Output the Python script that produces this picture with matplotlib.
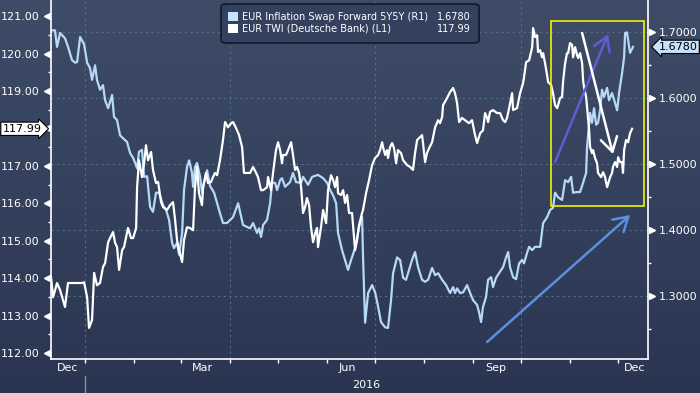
import numpy as np
import pandas as pd
import matplotlib
matplotlib.use("Agg")
import matplotlib.pyplot as plt
import matplotlib.dates as mdates
from matplotlib.colors import LinearSegmentedColormap
from matplotlib.patches import Rectangle, FancyBboxPatch
from matplotlib.transforms import offset_copy, blended_transform_factory

BASE = pd.Timestamp("2016-01-01")   # day counts below are days from 1 Jan 2016

# EUR Inflation Swap Forward 5Y5Y, right axis
swap_day = [-21.4, -18.9, -17.6, -15.7, -12.6, -10.7, -8.2, -6.3, -5.0, -3.1,
            -0.6, 1.3, 3.1, 4.4, 6.3, 7.5, 9.4, 11.3, 12.6, 14.5,
            17.0, 18.2, 20.1, 22.0, 24.5, 26.4, 28.3, 30.2, 32.7, 33.9,
            35.8, 37.1, 39.0, 40.9, 42.7, 44.6, 46.5, 49.0, 50.9, 52.8,
            54.7, 55.9, 57.8, 59.1, 61.0, 62.2, 64.1, 65.4, 67.2, 67.9,
            69.1, 70.4, 72.3, 73.5, 74.8, 76.7, 78.6, 81.1, 83.0, 84.8,
            86.7, 89.2, 93.0, 96.2, 99.3, 103.7, 105.6, 108.1, 109.4, 110.6,
            111.9, 114.4, 116.3, 117.5, 119.4, 120.7, 122.6, 123.8, 125.7, 128.8,
            130.7, 132.6, 135.8, 137.0, 140.2, 142.7, 146.4, 149.6, 152.1, 154.0,
            155.9, 157.8, 159.0, 161.5, 163.4, 165.3, 167.2, 169.7, 172.2, 174.1,
            174.7, 176.0, 177.9, 180.4, 182.3, 184.2, 186.0, 188.6, 190.4, 192.3,
            193.6, 196.1, 198.0, 199.9, 201.7, 203.0, 205.5, 207.4, 209.3, 211.8,
            213.7, 215.6, 218.1, 220.0, 221.9, 224.4, 226.9, 229.4, 231.3, 232.5,
            233.8, 235.7, 237.6, 240.1, 242.0, 243.9, 246.4, 247.6, 248.9, 250.1,
            252.0, 253.3, 255.2, 256.4, 258.3, 261.5, 262.7, 264.6, 265.9, 267.1,
            269.0, 270.9, 272.8, 274.7, 275.9, 277.8, 279.1, 281.0, 282.8, 286.0,
            287.9, 290.4, 292.3, 294.1, 295.4, 297.3, 299.8, 301.7, 303.6, 305.5,
            306.7, 309.2, 311.1, 313.0, 314.9, 315.5, 317.4, 318.6, 319.9, 321.2,
            322.4, 323.7, 324.9, 326.2, 328.1, 329.3, 331.2, 333.1, 334.4, 335.6,
            337.5, 338.8, 339.4, 340.6, 342.5, 344.4]
swap = [1.703, 1.703, 1.678, 1.699, 1.691, 1.678, 1.658, 1.654, 1.655, 1.693,
        1.682, 1.654, 1.646, 1.628, 1.650, 1.628, 1.613, 1.620, 1.597, 1.585,
        1.605, 1.572, 1.567, 1.544, 1.538, 1.534, 1.517, 1.510, 1.494, 1.519,
        1.522, 1.481, 1.482, 1.435, 1.428, 1.457, 1.457, 1.438, 1.431, 1.416,
        1.381, 1.373, 1.381, 1.363, 1.396, 1.461, 1.496, 1.506, 1.487, 1.466,
        1.496, 1.502, 1.481, 1.457, 1.472, 1.491, 1.467, 1.457, 1.441, 1.426,
        1.411, 1.411, 1.420, 1.441, 1.408, 1.403, 1.411, 1.396, 1.403, 1.390,
        1.408, 1.416, 1.441, 1.472, 1.472, 1.461, 1.476, 1.479, 1.466, 1.473,
        1.487, 1.473, 1.472, 1.481, 1.469, 1.481, 1.484, 1.479, 1.472, 1.461,
        1.453, 1.441, 1.396, 1.370, 1.355, 1.340, 1.355, 1.373, 1.405, 1.420,
        1.360, 1.260, 1.305, 1.317, 1.306, 1.284, 1.261, 1.253, 1.252, 1.294,
        1.335, 1.359, 1.355, 1.328, 1.325, 1.335, 1.355, 1.367, 1.344, 1.325,
        1.322, 1.325, 1.343, 1.332, 1.335, 1.325, 1.317, 1.305, 1.314, 1.305,
        1.312, 1.305, 1.306, 1.317, 1.305, 1.294, 1.287, 1.276, 1.261, 1.284,
        1.299, 1.325, 1.329, 1.314, 1.328, 1.340, 1.344, 1.359, 1.367, 1.344,
        1.329, 1.326, 1.350, 1.355, 1.350, 1.366, 1.375, 1.370, 1.375, 1.375,
        1.411, 1.420, 1.431, 1.434, 1.457, 1.450, 1.446, 1.476, 1.473, 1.481,
        1.457, 1.458, 1.458, 1.472, 1.487, 1.526, 1.578, 1.563, 1.585, 1.560,
        1.563, 1.582, 1.613, 1.602, 1.616, 1.597, 1.608, 1.593, 1.582, 1.608,
        1.638, 1.663, 1.699, 1.700, 1.669, 1.678]

# EUR TWI (Deutsche Bank), left axis
twi_day = [-21.4, -20.1, -17.6, -15.7, -12.6, -10.7, -6.3, -1.9, -0.6, 1.3,
           2.5, 4.4, 5.7, 7.5, 9.4, 11.3, 12.6, 14.5, 15.7, 17.6,
           18.9, 20.1, 21.4, 23.3, 24.5, 25.8, 27.0, 28.9, 30.2, 32.1,
           32.7, 33.9, 35.8, 37.1, 38.3, 39.6, 41.5, 42.7, 44.6, 45.9,
           47.8, 49.0, 51.5, 53.4, 55.3, 56.6, 57.8, 59.1, 61.0, 62.2,
           64.1, 66.0, 67.9, 69.1, 70.4, 71.6, 73.5, 74.2, 76.0, 77.3,
           79.2, 80.4, 81.7, 83.0, 84.8, 86.7, 88.0, 89.9, 91.8, 93.0,
           94.9, 96.8, 98.7, 99.9, 101.8, 103.7, 105.6, 107.5, 108.7, 110.6,
           111.9, 114.4, 115.0, 116.9, 118.2, 120.0, 121.3, 122.6, 123.8, 124.4,
           126.3, 127.6, 129.5, 130.7, 132.0, 133.2, 134.5, 135.8, 137.0, 138.3,
           139.5, 140.8, 142.0, 143.3, 144.6, 145.8, 146.4, 148.3, 149.6, 151.5,
           152.7, 154.6, 155.9, 157.1, 158.4, 159.0, 160.9, 162.2, 163.4, 164.7,
           165.9, 167.8, 169.7, 171.0, 172.2, 174.1, 174.7, 176.6, 178.5, 180.4,
           182.3, 184.2, 185.4, 186.7, 187.3, 188.6, 189.8, 190.4, 191.7, 193.0,
           194.2, 195.5, 196.7, 198.6, 199.9, 202.4, 204.3, 206.1, 207.4, 208.7,
           209.9, 211.8, 212.4, 213.7, 214.9, 216.2, 218.1, 220.0, 221.9, 223.1,
           224.4, 225.0, 227.5, 229.4, 231.3, 232.5, 233.8, 235.1, 236.9, 238.8,
           241.3, 243.2, 245.1, 246.4, 248.3, 250.1, 251.4, 252.7, 253.3, 254.5,
           256.4, 258.9, 260.8, 262.7, 264.0, 265.2, 266.5, 268.4, 269.0, 271.5,
           273.4, 275.3, 275.9, 277.2, 279.1, 281.0, 281.6, 282.8, 284.1, 284.7,
           286.0, 287.2, 287.9, 289.1, 290.4, 291.0, 292.9, 294.1, 295.4, 296.7,
           297.3, 298.5, 299.8, 300.4, 301.7, 302.9, 303.6, 304.8, 306.1, 306.7,
           308.0, 309.2, 309.9, 311.1, 312.4, 313.0, 313.6, 314.9, 315.5, 316.8,
           317.4, 318.6, 319.3, 320.5, 321.8, 322.4, 324.3, 325.6, 326.8, 328.1,
           330.0, 331.2, 331.8, 333.1, 334.4, 335.0, 336.2, 337.5, 338.1, 338.8,
           340.0, 341.3, 342.5, 343.8]
twi = [114.03, 113.49, 113.87, 113.68, 113.23, 113.87, 113.87, 113.87, 113.89, 113.49,
       112.67, 112.88, 114.14, 113.81, 113.87, 114.30, 114.40, 114.96, 115.07, 115.23,
       114.94, 114.83, 114.22, 114.75, 114.83, 115.10, 115.34, 115.07, 115.07, 115.34,
       116.43, 117.15, 116.70, 117.07, 117.55, 117.15, 117.37, 116.89, 116.54, 116.57,
       116.03, 115.90, 115.82, 115.95, 116.03, 115.55, 115.02, 114.75, 114.43, 115.02,
       115.36, 115.34, 115.28, 116.43, 116.97, 116.27, 115.95, 116.43, 116.81, 116.54,
       116.57, 116.70, 116.81, 116.75, 117.15, 117.69, 118.17, 118.03, 118.14, 118.17,
       118.01, 117.82, 117.50, 116.81, 116.81, 116.81, 116.97, 116.81, 116.70, 116.35,
       116.35, 116.43, 116.70, 116.35, 116.83, 117.42, 117.63, 117.42, 117.07, 117.29,
       117.29, 117.42, 117.63, 117.29, 116.89, 116.97, 116.81, 116.43, 115.74, 115.90,
       116.14, 115.95, 115.36, 114.96, 115.20, 115.34, 114.83, 115.36, 115.82, 115.47,
       116.35, 116.75, 116.62, 116.43, 116.70, 116.27, 116.22, 116.35, 116.01, 116.22,
       115.74, 115.74, 114.75, 115.02, 115.42, 115.74, 115.82, 116.27, 116.62, 117.02,
       117.21, 117.29, 117.42, 117.63, 117.50, 117.29, 117.42, 117.21, 117.50, 117.61,
       117.47, 117.07, 117.42, 117.34, 117.15, 117.02, 116.97, 116.89, 117.34, 117.69,
       117.74, 117.82, 117.61, 117.10, 117.34, 117.47, 117.63, 118.03, 118.22, 118.14,
       118.30, 118.62, 118.81, 118.97, 119.08, 118.94, 118.68, 118.17, 118.28, 118.22,
       118.14, 118.22, 117.82, 117.61, 117.87, 117.95, 118.41, 118.28, 118.17, 118.44,
       118.49, 118.41, 118.41, 118.22, 118.17, 118.28, 118.54, 118.94, 118.49, 118.54,
       118.94, 119.21, 119.37, 119.77, 119.82, 120.17, 120.68, 120.44, 120.49, 120.04,
       120.09, 119.90, 120.01, 119.74, 119.42, 119.24, 119.16, 118.94, 118.62, 118.54,
       118.62, 118.81, 118.84, 119.24, 119.74, 120.01, 120.01, 120.28, 120.23, 119.90,
       120.17, 119.96, 119.88, 120.01, 119.74, 119.29, 119.10, 118.84, 118.57, 117.95,
       117.50, 117.34, 117.42, 117.21, 117.07, 116.81, 116.70, 116.83, 116.70, 116.43,
       116.70, 116.81, 116.97, 117.10, 116.97, 117.23, 117.10, 117.10, 116.81, 117.42,
       117.69, 117.63, 117.87, 117.99]

swap_name = "EUR Inflation Swap Forward 5Y5Y (R1)"
twi_name = "EUR TWI (Deutsche Bank) (L1)"
left_ticks = list(range(112, 122))
right_ticks = [1.3, 1.4, 1.5, 1.6, 1.7]
month_labels = ["Dec", "Mar", "Jun", "Sep", "Dec"]
month_label_days = [-10.7, 73.5, 164.7, 258.3, 345.7]
x_days = (-21.4, 353.8)
twi_lim = (111.84, 121.43)
swap_lim = (1.205, 1.749)

# highlight box and arrows, in (day, right-axis value)
box = ((292.9, 1.437), (351.3, 1.717))
arrows = [((295.4, 1.5035), (328.7, 1.6974), "#5f5cd6"),
          ((312.4, 1.699), (331.8, 1.5156), "#ffffff"),
          ((252.7, 1.2308), (342.6, 1.4232), "#5b8fe0")]

FG = "white"
BLUE = "#b7d9f8"


def when(d):
    return BASE + pd.to_timedelta(np.asarray(d, float), unit="D")


def dnum(d):
    return mdates.date2num(BASE + pd.Timedelta(days=float(d)))


fig = plt.figure(figsize=(7, 3.93), dpi=100)
bg = fig.add_axes([0, 0, 1, 1], zorder=-10)
cmap = LinearSegmentedColormap.from_list("bbg", ["#3f4c68", "#2a3651"])
bg.imshow(np.linspace(0, 1, 256)[:, None], aspect="auto", cmap=cmap,
          extent=[0, 1, 0, 1], origin="upper")
bg.axis("off")

rect = [51 / 700, 34 / 393, 597 / 700, 359 / 393]
ax = fig.add_axes(rect)
ax2 = ax.twinx()
ax.set_zorder(ax2.get_zorder() + 1)
ax.patch.set_visible(False)
ax2.patch.set_visible(False)

# grid (behind both lines)
ax2.set_yticks(right_ticks)
ax2.grid(axis="y", color="#4f7086", lw=0.8, ls=(0, (2, 3)))
for g in pd.date_range("2016-01-01", "2016-10-01", freq="QS"):
    ax2.axvline(g, color="#4f7086", lw=0.8, ls=(0, (2, 3)), zorder=0)

ax2.plot(when(swap_day), swap, color=BLUE, lw=1.6)
ax.plot(when(twi_day), twi, color=FG, lw=1.6)

ax.set_xlim(dnum(x_days[0]), dnum(x_days[1]))
ax.set_ylim(*twi_lim)
ax2.set_ylim(*swap_lim)

for s in ("top", "right"):
    ax.spines[s].set_visible(False)
for s in ("top", "left", "bottom"):
    ax2.spines[s].set_visible(False)
for sp in (ax.spines["left"], ax.spines["bottom"], ax2.spines["right"]):
    sp.set_color(FG); sp.set_linewidth(1.2)

# y axes: labels with small triangles, minor ticks at halves
ax.set_yticks(left_ticks, [f"{v:.2f}" for v in left_ticks])
ax.set_yticks(np.arange(112.5, 121, 1), minor=True)
ax.tick_params(axis="y", which="major", length=0, pad=8, labelsize=8, labelcolor=FG)
ax.tick_params(axis="y", which="minor", length=2.5, width=1, color=FG)
ax2.set_yticklabels([f"{v:.4f}" for v in right_ticks])
ax2.set_yticks(np.arange(1.25, 1.7, 0.1), minor=True)
ax2.tick_params(axis="y", which="major", length=0, pad=8, labelsize=8, labelcolor=FG)
ax2.tick_params(axis="y", which="minor", length=2.5, width=1, color=FG)
ax.plot(np.zeros(len(left_ticks)), left_ticks, ls="none", marker="<", ms=5, color=FG,
        clip_on=False, transform=offset_copy(ax.get_yaxis_transform(), fig=fig, x=-2.6, units="points"))
ax2.plot(np.ones(len(right_ticks)), right_ticks, ls="none", marker=">", ms=5, color=FG,
         clip_on=False, transform=offset_copy(ax2.get_yaxis_transform(), fig=fig, x=2.6, units="points"))

# x axis: month boundaries as ticks, month names centred in visible part
ax.set_xticks([dnum(d) for d in month_label_days], month_labels)
ax.set_xticks(mdates.date2num(pd.date_range("2016-01-01", "2016-12-01", freq="MS")), minor=True)
ax.tick_params(axis="x", which="major", length=0, pad=3, labelsize=8, labelcolor=FG)
ax.tick_params(axis="x", which="minor", length=3, width=1, color=FG)
xt = blended_transform_factory(ax.transData, ax.transAxes)
jan1 = mdates.date2num(BASE)
ax.text((jan1 + dnum(x_days[1])) / 2, -0.073, "2016", transform=xt, ha="center", va="center",
        color=FG, fontsize=8)
ax.plot([jan1, jan1], [-0.048, -0.1], transform=xt, clip_on=False, color="#8592a8", lw=1)

# last-value tags
ax.text(-0.016, twi[-1], f"{twi[-1]:.2f}", transform=ax.get_yaxis_transform(), ha="right",
        va="center", fontsize=8, color="black", clip_on=False, zorder=10,
        bbox=dict(boxstyle="rarrow,pad=0.15", fc="white", ec="black", lw=0.8))
ax2.text(1.018, swap[-1], f"{swap[-1]:.4f}", transform=ax2.get_yaxis_transform(), ha="left",
         va="center", fontsize=8, color="black", clip_on=False, zorder=10,
         bbox=dict(boxstyle="larrow,pad=0.15", fc="#c6e2fb", ec="black", lw=0.8))

# highlight box and arrows
(b0, v0), (b1, v1) = box
ax.add_patch(Rectangle((dnum(b0), v0), dnum(b1) - dnum(b0), v1 - v0, transform=ax2.transData,
                       fill=False, ec="#f2f200", lw=1.2, zorder=6))
for (t, tv), (h, hv), c in arrows:
    ax.annotate("", xy=(dnum(h), hv), xytext=(dnum(t), tv), xycoords=ax2.transData,
                textcoords=ax2.transData, zorder=7,
                arrowprops=dict(arrowstyle="->,head_length=0.5,head_width=0.3", color=c, lw=1.8,
                                mutation_scale=20, shrinkA=0, shrinkB=0))

# legend
ax.add_patch(FancyBboxPatch((0.2848, 0.8802), 0.4322, 0.1087, transform=ax.transAxes,
                            boxstyle="round,pad=0,rounding_size=0.008", fc="#34415e",
                            ec="#0b1020", lw=1, zorder=8))
for yy, name, val, c in ((0.954, swap_name, f"{swap[-1]:.4f}", "#c6e2ff"),
                         (0.9206, twi_name, f"{twi[-1]:.2f}", "white")):
    ax.add_patch(Rectangle((0.2965, yy - 0.0125), 0.01675, 0.025, transform=ax.transAxes,
                           fc=c, ec="none", zorder=9))
    ax.text(0.3199, yy, name, transform=ax.transAxes, va="center", color=FG, fontsize=7, zorder=9)
    ax.text(0.7035, yy, val, transform=ax.transAxes, va="center", ha="right", color=FG,
            fontsize=7, zorder=9)

fig.savefig("out.png", dpi=100)
